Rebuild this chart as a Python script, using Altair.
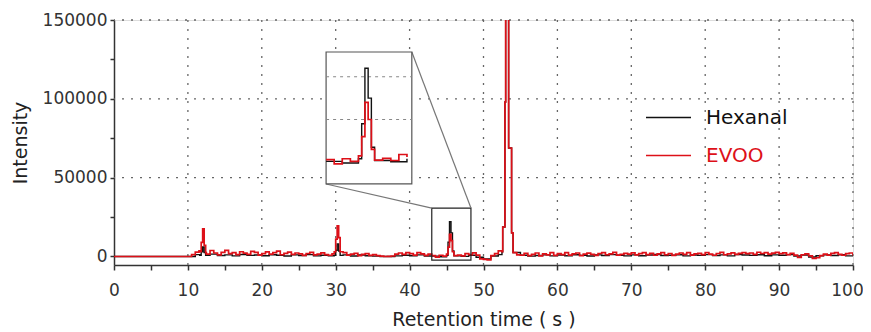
import altair as alt
import pandas as pd

# ---------------- axis ranges ----------------
X_DOMAIN = [0, 100]
Y_DOMAIN = [-5400, 150000]
x_ticks = list(range(0, 101, 5))
y_ticks = list(range(0, 150001, 25000))
x_grid = list(range(10, 101, 10))
y_grid = [50000, 100000, 150000]

series_names = ["Hexanal", "EVOO"]
series_colors = ["#111111", "#dd1018"]

# ---------------- data ----------------
lead_t = [0.0, 10.0]
lead_v = [0, 0]

# EVOO noise, every 0.5 s from 10 to 100 s
red_noise_start, red_noise_step = 10.0, 0.5
red_noise = [
    600, 1200, 2800, 3500, 2000, 1500, 3800, 2200, 1000, 2600,
    3900, 1800, 2500, 1200, 3000, 2100, 1400, 3300, 2600, 900,
    1800, 2900, 1500, 2400, 3400, 1100, 2000, 2800, 1300, 2200,
    1600, 700, 1900, 2600, 1000, 1500, 2300, 1200, 800, 1700,
    1000, 1800, 2400, 900, 1500, 2000, 600, 1300, 1800, 700,
    1200, 500, 200, 0, 100, 300, 1500, 2200, 1300, 2500,
    1800, 900, 2400, 1600, 700, 1500, 600, -400, 800, 200,
    300, 500, -300, 900, 400, 1800, 1200, 2300, 900, -1500,
    -1800, -2200, 600, 1800, 3600, 3000, 2000, 2000, 2400, 1000,
    800, 2000, 600, 1400, 2200, 400, 1600, 1000, 2400, 700,
    1800, 1200, 2500, 900, 1600, 2200, 600, 1500, 2100, 1300,
    700, 1900, 2400, 1100, 1700, 2600, 900, 1400, 2000, 1500,
    2300, 1000, 1800, 2500, 1200, 2000, 800, 1600, 2400, 1100,
    1900, 700, 1500, 2200, 1300, 2500, 900, 1700, 2000, 1200,
    2400, 1500, 800, 1900, 2600, 1100, 1700, 2300, 1400, 2000,
    2500, 1800, 2200, 1300, 2700, 1900, 2400, 1500, 2100, 2600,
    1800, 2300, 1200, 2000, 900, -600, 1100, 1700, 400, -1200,
    -800, 600, 1500, 900, 2000, 2400, 1300, 800, 1800, 2200,
    600,
]

# Hexanal noise, every 1 s from 10 to 100 s
black_noise_start, black_noise_step = 10.0, 1.0
black_noise = [
    300, 1200, 800, 1500, 600, 1000, 400, 1300, 700, 900,
    500, 1100, 800, 300, 1000, 600, 1200, 400, 800, 500,
    700, 1000, 300, 900, 500, 200, 0, 0, 400, 800,
    500, 1000, 300, 200, -200, 300, 600, 100, 800, -500,
    -1500, 300, 1200, 2000, 1500, 800, 200, 600, 1000, 400,
    900, 500, 1100, 700, 300, 1000, 600, 1200, 800, 400,
    1000, 500, 900, 1300, 600, 800, 1100, 400, 900, 700,
    1200, 600, 1000, 400, 1300, 900, 700, 1100, 500, 1000,
    800, 1200, 300, 900, -300, 500, 1000, 600, 1100, 400,
    300,
]

# peaks (retention time, intensity)
red_peaks = [
    ([11.6, 11.8, 12.0, 12.2, 12.4], [3000, 9000, 17500, 7000, 2500]),
    ([29.8, 30.0, 30.2, 30.4, 30.6], [3000, 11000, 19500, 12000, 3000]),
    ([45.0, 45.2, 45.4, 45.6, 45.8, 46.0], [1500, 6000, 14000, 10000, 3000, 500]),
    ([52.5, 52.6, 52.9, 53.0, 53.4, 53.8, 54.0], [3000, 18700, 98000, 160000, 68800, 15000, 2500]),
]
black_peaks = [
    ([11.6, 11.8, 12.0, 12.2, 12.4], [800, 3000, 6000, 2500, 800]),
    ([29.8, 30.0, 30.2, 30.4, 30.6], [800, 4000, 8000, 3500, 700]),
    ([45.0, 45.2, 45.4, 45.6, 45.8, 46.0], [800, 9000, 22000, 15000, 3500, 400]),
    ([52.5, 52.6, 52.9, 53.0, 53.4, 53.8, 54.0], [3000, 18700, 98000, 160000, 68800, 15000, 2500]),
]

# inset: source window (main coords) and where it is drawn
zoom_x = [43.0, 48.3]
zoom_y = [-2300, 30700]
inset_src_y = [-5100, 25800]
inset_x = [28.7, 40.3]
inset_y = [46000, 129700]
inset_grid_vals = [10000, 20000]


def build(name, start, step, noise, peaks):
    rows = [(t, v) for t, v in zip(lead_t, lead_v)]
    windows = [(min(pt), max(pt)) for pt, _ in peaks]
    for i, v in enumerate(noise):
        t = round(start + i * step, 3)
        if t <= lead_t[-1] and i == 0:
            continue
        if any(a <= t <= b for a, b in windows):
            continue
        rows.append((t, v))
    for pt, pv in peaks:
        rows.extend(zip(pt, pv))
    df = pd.DataFrame(rows, columns=["x", "y"]).sort_values("x").reset_index(drop=True)
    df["series"] = name
    df["order"] = range(len(df))
    return df


black_df = build("Hexanal", black_noise_start, black_noise_step, black_noise, black_peaks)
red_df = build("EVOO", red_noise_start, red_noise_step, red_noise, red_peaks)


def inset_map_y(v):
    return inset_y[0] + (v - inset_src_y[0]) * (inset_y[1] - inset_y[0]) / (inset_src_y[1] - inset_src_y[0])


def to_inset(df):
    d = df[(df.x >= zoom_x[0]) & (df.x <= zoom_x[1])].copy()
    d["x"] = inset_x[0] + (d.x - zoom_x[0]) * (inset_x[1] - inset_x[0]) / (zoom_x[1] - zoom_x[0])
    d["y"] = inset_map_y(d.y)
    return d


black_in = to_inset(black_df)
red_in = to_inset(red_df)

inset_grid_df = pd.DataFrame({
    "x": [inset_x[0]] * len(inset_grid_vals),
    "x2": [inset_x[1]] * len(inset_grid_vals),
    "y": [inset_map_y(g) for g in inset_grid_vals],
})
inset_box = pd.DataFrame({"x": [inset_x[0]], "x2": [inset_x[1]], "y": [inset_y[0]], "y2": [inset_y[1]]})
zoom_box = pd.DataFrame({"x": [zoom_x[0]], "x2": [zoom_x[1]], "y": [zoom_y[0]], "y2": [zoom_y[1]]})
connectors = pd.DataFrame({
    "x": [inset_x[0], inset_x[1]],
    "y": [inset_y[0], inset_y[1]],
    "x2": [zoom_x[0], zoom_x[1]],
    "y2": [zoom_y[1], zoom_y[1]],
})

# ---------------- encodings ----------------
FONT = "DejaVu Sans"
xs = alt.Scale(domain=X_DOMAIN, nice=False, zero=False)
ys = alt.Scale(domain=Y_DOMAIN, nice=False, zero=False)
x_axis = alt.Axis(
    values=x_ticks, labelExpr="datum.value % 10 == 0 ? datum.label : ''",
    grid=False, domainColor="#333", domainWidth=1.5, tickColor="#333", tickWidth=1.5,
    tickSize=5, labelFont=FONT, labelFontSize=17, labelColor="#333", labelPadding=12,
    labelOffset={"condition": {"test": "datum.value == 100", "value": -6}, "value": 0},
    titleFont=FONT, titleFontSize=19, titleFontWeight="normal", titleColor="#222",
    titlePadding=12, format="d", labelOverlap=False, labelFlush=False,
)
y_axis = alt.Axis(
    values=y_ticks, labelExpr="datum.value % 50000 == 0 ? datum.label : ''",
    grid=False, domainColor="#333", domainWidth=1.5, tickColor="#333", tickWidth=1.5,
    tickSize=4, labelFont=FONT, labelFontSize=17, labelColor="#333", labelPadding=3,
    titleFont=FONT, titleFontSize=19, titleFontWeight="normal", titleColor="#222",
    titlePadding=12, format="d", labelOverlap=False,
)
X = alt.X("x:Q", scale=xs, axis=x_axis, title="Retention time ( s )")
Y = alt.Y("y:Q", scale=ys, axis=y_axis, title="Intensity")

legend = alt.Legend(
    orient="none", legendX=531, legendY=74, title=None, symbolType="stroke",
    symbolSize=2025, symbolStrokeWidth=1.3, labelFontSize=20, labelFont=FONT,
    labelOffset=14, rowPadding=4,
    labelColor={"expr": "datum.label == 'EVOO' ? '%s' : '%s'" % (series_colors[1], series_colors[0])},
)
C = alt.Color("series:N", scale=alt.Scale(domain=series_names, range=series_colors), legend=legend)

dot = [2, 7]
vgrid = alt.Chart(pd.DataFrame({"x": x_grid})).mark_rule(
    strokeDash=dot, color="#666", strokeWidth=1.3).encode(x=X)
hgrid = alt.Chart(pd.DataFrame({"y": y_grid})).mark_rule(
    strokeDash=dot, color="#666", strokeWidth=1.3).encode(y=Y)


def trace(df, w):
    return alt.Chart(df).mark_line(interpolate="step-after", strokeWidth=w, clip=True).encode(
        x=X, y=Y, color=C, order="order:Q")


zoom_rect = alt.Chart(zoom_box).mark_rect(fillOpacity=0, stroke="#222", strokeWidth=1.2).encode(
    x=X, x2="x2", y=Y, y2="y2")
conn = alt.Chart(connectors).mark_rule(color="#777", strokeWidth=1.2).encode(
    x=X, x2="x2", y=Y, y2="y2")
inset_rect = alt.Chart(inset_box).mark_rect(fill="white", stroke="#555", strokeWidth=1.2).encode(
    x=X, x2="x2", y=Y, y2="y2")
inset_grid = alt.Chart(inset_grid_df).mark_rule(strokeDash=[3, 4], color="#888", strokeWidth=1.1).encode(
    x=X, x2="x2", y=Y)

chart = alt.layer(
    vgrid, hgrid, trace(black_df, 1.4), trace(red_df, 1.7), zoom_rect, conn,
    inset_rect, inset_grid, trace(black_in, 1.4), trace(red_in, 1.7),
).properties(
    width=739, height=245,
    autosize=alt.AutoSizeParams(type="none"),
    padding={"left": 106, "top": 12, "right": 10, "bottom": 66},
).configure_view(stroke=None).configure(background="white")

chart.save("out.html", embed_options={"renderer": "svg", "actions": False})
